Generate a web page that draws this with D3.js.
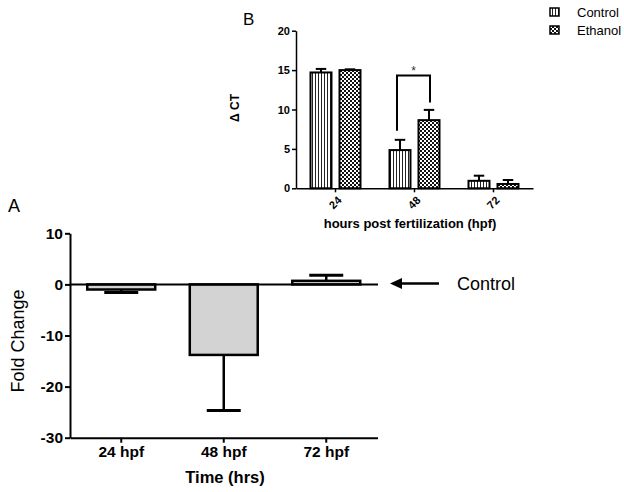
<!DOCTYPE html>
<html><head><meta charset="utf-8">
<script src="https://cdn.jsdelivr.net/npm/d3@7"></script>
<style>
body{margin:0;background:#fff;}
svg{display:block;font-family:"Liberation Sans",Arial,sans-serif;}
</style></head>
<body>
<svg id="c" width="624" height="492"></svg>
<script>
// Panel A data
const catsA = ["24 hpf", "48 hpf", "72 hpf"];
const foldChange = [-1.0, -13.8, 0.7];
const foldErr = [-1.6, -24.7, 1.8];
const ticksA = [10, 0, -10, -20, -30];

// Panel B data
const catsB = ["24", "48", "72"];
const seriesB = ["Control", "Ethanol"];
const controlCT = [14.7, 4.85, 0.95];
const controlErr = [15.15, 6.15, 1.6];
const ethanolCT = [15.0, 8.65, 0.55];
const ethanolErr = [15.1, 9.95, 1.05];
const ticksB = [0, 5, 10, 15, 20];

const svg = d3.select("#c");
const defs = svg.append("defs");
// vertical stripes
const ps = defs.append("pattern").attr("id","stripes").attr("patternUnits","userSpaceOnUse")
  .attr("width",3).attr("height",3);
ps.append("rect").attr("width",3).attr("height",3).attr("fill","#fff");
ps.append("rect").attr("x",0).attr("width",1).attr("height",3).attr("fill","#222");
// checker
const pc = defs.append("pattern").attr("id","checker").attr("patternUnits","userSpaceOnUse")
  .attr("width",4).attr("height",4);
pc.append("rect").attr("width",4).attr("height",4).attr("fill","#111");
pc.append("rect").attr("x",0).attr("y",0).attr("width",2).attr("height",2).attr("fill","#fff");
pc.append("rect").attr("x",2).attr("y",2).attr("width",2).attr("height",2).attr("fill","#fff");

// ---------- Panel A ----------
const xA = d3.scaleBand().domain(catsA).range([70, 377.5]).paddingInner(0.337).paddingOuter(0.1685);
const yA = d3.scaleLinear().domain([-30, 10]).range([437.7, 233.3]);
const gA = svg.append("g");

// bars
gA.selectAll("rect.barA").data(catsA).join("rect").attr("class","barA")
  .attr("x", d => xA(d)).attr("width", xA.bandwidth())
  .attr("y", (d,i) => Math.min(yA(foldChange[i]), yA(0)))
  .attr("height", (d,i) => Math.abs(yA(foldChange[i]) - yA(0)))
  .attr("fill","#d3d3d3").attr("stroke","#000").attr("stroke-width",2.5);
// error bars
catsA.forEach((d,i) => {
  const cx = xA(d) + xA.bandwidth()/2;
  const cw = xA.bandwidth()/2;
  gA.append("line").attr("x1",cx).attr("x2",cx).attr("y1",yA(foldChange[i])).attr("y2",yA(foldErr[i]))
    .attr("stroke","#000").attr("stroke-width",2.5);
  gA.append("line").attr("x1",cx-cw/2).attr("x2",cx+cw/2).attr("y1",yA(foldErr[i])).attr("y2",yA(foldErr[i]))
    .attr("stroke","#000").attr("stroke-width",3);
});
// zero line
gA.append("line").attr("x1",70).attr("x2",378).attr("y1",yA(0)).attr("y2",yA(0))
  .attr("stroke","#000").attr("stroke-width",2);

const axA = gA.append("g").attr("transform","translate(70,0)")
  .call(d3.axisLeft(yA).tickValues(ticksA).tickFormat(d => String(d)).tickSize(5).tickSizeOuter(0).tickPadding(2));
axA.selectAll("text").attr("font-size",15.5).attr("font-weight","bold").attr("fill","#000");
axA.selectAll("line,path").attr("stroke","#000").attr("stroke-width",2);

const axAx = gA.append("g").attr("transform",`translate(0,${yA(-30)})`)
  .call(d3.axisBottom(xA).tickSize(5).tickSizeOuter(0).tickPadding(3));
axAx.selectAll("text").attr("font-size",15.5).attr("font-weight","bold").attr("fill","#000");
axAx.selectAll("line,path").attr("stroke","#000").attr("stroke-width",2);

gA.append("text").attr("x",225).attr("y",483).attr("text-anchor","middle")
  .attr("font-size",16.5).attr("font-weight","bold").text("Time (hrs)");
gA.append("text").attr("transform","translate(24,341) rotate(-90)").attr("text-anchor","middle")
  .attr("font-size",18).text("Fold Change");
gA.append("text").attr("x",8).attr("y",212).attr("font-size",18).text("A");

// arrow + Control
gA.append("line").attr("x1",400).attr("x2",439).attr("y1",283.5).attr("y2",283.5)
  .attr("stroke","#000").attr("stroke-width",2.5);
gA.append("path").attr("d","M390,283.5 L402,278 L402,289 Z").attr("fill","#000");
gA.append("text").attr("x",457).attr("y",290).attr("font-size",18).text("Control");

// ---------- Panel B ----------
const xB = d3.scaleBand().domain(catsB).range([296, 533]);
const xS = d3.scaleBand().domain(seriesB).range([0, xB.bandwidth()]).paddingInner(0.276).paddingOuter(0.5);
const yB = d3.scaleLinear().domain([0, 20]).range([188.3, 30.7]);
const gB = svg.append("g");
const vals = {Control: controlCT, Ethanol: ethanolCT};
const errs = {Control: controlErr, Ethanol: ethanolErr};
const fills = {Control: "url(#stripes)", Ethanol: "url(#checker)"};

seriesB.forEach(s => {
  catsB.forEach((c,i) => {
    const x0 = xB(c) + xS(s);
    const w = xS.bandwidth();
    gB.append("rect").attr("x",x0).attr("width",w).attr("y",yB(vals[s][i])).attr("height",yB(0)-yB(vals[s][i]))
      .attr("fill",fills[s]).attr("stroke","#000").attr("stroke-width",2);
    const cx = x0 + w/2;
    gB.append("line").attr("x1",cx).attr("x2",cx).attr("y1",yB(vals[s][i])).attr("y2",yB(errs[s][i]))
      .attr("stroke","#000").attr("stroke-width",2);
    gB.append("line").attr("x1",cx-w/4).attr("x2",cx+w/4).attr("y1",yB(errs[s][i])).attr("y2",yB(errs[s][i]))
      .attr("stroke","#000").attr("stroke-width",2);
  });
});

// significance bracket at 48
{
  const xl = xB("48") + xS("Control") + xS.bandwidth()/2 - 3;
  const xr = xB("48") + xS("Ethanol") + xS.bandwidth()/2 + 1;
  gB.append("path").attr("d",`M${xl},${yB(7.3)} V${yB(14.3)} H${xr} V${yB(10.9)}`)
    .attr("fill","none").attr("stroke","#000").attr("stroke-width",2);
  gB.append("text").attr("x",(xl+xr)/2).attr("y",yB(14.3)-1).attr("text-anchor","middle")
    .attr("font-size",12).attr("fill","#333").text("*");
}

const axB = gB.append("g").attr("transform","translate(296,0)")
  .call(d3.axisLeft(yB).tickValues(ticksB).tickSize(4).tickSizeOuter(0).tickPadding(2));
axB.selectAll("text").attr("font-size",11).attr("font-weight","bold").attr("fill","#000");
axB.selectAll("line,path").attr("stroke","#000").attr("stroke-width",1.5);

const axBx = gB.append("g").attr("transform",`translate(0,${yB(0)})`)
  .call(d3.axisBottom(xB).tickSize(4).tickSizeOuter(0));
axBx.selectAll("text").attr("font-size",11).attr("font-weight","bold").attr("fill","#000")
  .attr("text-anchor","end").attr("x",0).attr("y",0).attr("dy","0.35em")
  .attr("transform","translate(4,10) rotate(-45)");
axBx.selectAll("line,path").attr("stroke","#000").attr("stroke-width",1.5);

gB.append("text").attr("x",410).attr("y",228).attr("text-anchor","middle")
  .attr("font-size",13).attr("font-weight","bold").text("hours post fertilization (hpf)");
gB.append("text").attr("transform","translate(239,108) rotate(-90)").attr("text-anchor","middle")
  .attr("font-size",12).attr("font-weight","bold").text("Δ CT");
gB.append("text").attr("x",243).attr("y",25).attr("font-size",17).text("B");

// legend
const leg = svg.append("g");
seriesB.forEach((s,i) => {
  const ly = 12 + i*18;
  leg.append("rect").attr("x",550).attr("y",ly-4).attr("width",9).attr("height",8)
    .attr("fill",fills[s]).attr("stroke","#000").attr("stroke-width",1.5);
  leg.append("text").attr("x",577).attr("y",ly+4.5).attr("font-size",13).text(s);
});
</script>
</body></html>
